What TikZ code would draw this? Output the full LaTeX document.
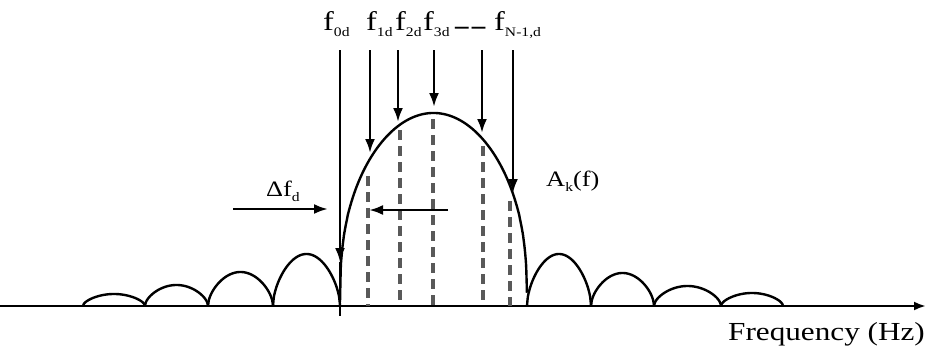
\documentclass[tikz,border=0pt]{standalone}
\usepackage{graphicx}
\usepackage{fontspec}
\setmainfont{Liberation Serif}
\usetikzlibrary{
    positioning,
    arrows.meta,
}
\newcommand{\wide}[1]{\scalebox{1.2}[1]{#1}}
\newcommand{\lowsub}[1]{\raisebox{-0.55ex}{\fontsize{13}{13}\selectfont #1}}
\tikzset{
    % Curve and axis styles
    spectrum/.style={line width=2.4pt, line join=round},
    axis line/.style={line width=2.4pt, -{Latex[length=12pt,width=9pt]}},
    % Arrow styles
    tone arrow/.style={line width=2.6pt, -{Latex[length=14pt,width=10pt]}},
    tone line/.style={line width=3.6pt, gray!70!black, dash pattern=on 10pt off 6pt},
    % Label styles
    flabel/.style={font=\fontsize{27}{30}\selectfont, inner sep=0pt},
    slabel/.style={font=\fontsize{22}{26}\selectfont, inner sep=0pt},
    axis label/.style={font=\fontsize{26}{30}\selectfont, inner sep=0pt},
}

\begin{document}
\begin{tikzpicture}[x=1pt, y=-1pt]
    \useasboundingbox (0,0) rectangle (927,351);

    % Frequency axis
    \coordinate (ax0) at (0,306);
    \coordinate (ax1) at (926,306);
    \draw[axis line] (ax0) -- (ax1);
    \node[axis label, anchor=base east] (freq) at (925,340) {\wide{Frequency (Hz)}};

    % Main lobe
    \draw[spectrum] plot[domain=-1:1, samples=241, smooth]
        ({433.5+93.5*\x}, {306-193*pow(max(abs(cos(90*\x)),0.00001),0.373)});

    % Side lobes
    \foreach \a/\b/\h in {83/145/12, 145/208/21, 208/273/34, 273/340/52,
                          527/591/52, 591/654/33, 654/721/20, 721/783/13}
        \draw[spectrum] plot[domain=-1:1, samples=81, smooth]
            ({(\a+\b)/2+(\b-\a)/2*\x}, {306-\h*pow(max(abs(cos(90*\x)),0.00001),0.55)});

    % Subcarrier labels
    \node[flabel, anchor=base west] (f0) at (323,30) {\wide{f\lowsub{0d}}};
    \node[flabel, anchor=base west] (f1) at (366,30) {\wide{f\lowsub{1d}}};
    \node[flabel, anchor=base west] (f2) at (395,30) {\wide{f\lowsub{2d}}};
    \node[flabel, anchor=base west] (f3) at (423,30) {\wide{f\lowsub{3d}}};
    \node[flabel, anchor=base west] (fdots) at (455,34) {\textbf{–}\hspace{3pt}\textbf{–}};
    \node[flabel, anchor=base west] (fN) at (494,30) {\wide{f\lowsub{N-1,d}}};

    % Subcarrier arrows
    \coordinate (s0) at (340,50);  \coordinate (t0) at (340,262);
    \coordinate (s1) at (370,50);  \coordinate (t1) at (370,153);
    \coordinate (s2) at (398,50);  \coordinate (t2) at (398,122);
    \coordinate (s3) at (434,50);  \coordinate (t3) at (434,107);
    \coordinate (s4) at (482,50);  \coordinate (t4) at (482,133);
    \coordinate (s5) at (513,50);  \coordinate (t5) at (513,193);
    \coordinate (b0) at (340,316);

    \draw[tone arrow] (s0) -- (t0);
    \draw[spectrum] (t0) -- (b0);
    \draw[tone arrow] (s1) -- (t1);
    \draw[tone arrow] (s2) -- (t2);
    \draw[tone arrow] (s3) -- (t3);
    \draw[tone arrow] (s4) -- (t4);
    \draw[tone arrow] (s5) -- (t5);

    % Dashed lines under the lobe
    \coordinate (d1) at (368,176);
    \coordinate (d2) at (400,130);
    \coordinate (d3) at (433,119);
    \coordinate (d4) at (483,146);
    \coordinate (d5) at (510,201);
    \draw[tone line] (d1) -- (d1 |- ax0);
    \draw[tone line] (d2) -- (d2 |- ax0);
    \draw[tone line] (d3) -- (d3 |- ax0);
    \draw[tone line] (d4) -- (d4 |- ax0);
    \draw[tone line] (d5) -- (d5 |- ax0);

    % Doppler shift
    \node[slabel, anchor=base west] (df) at (266,196) {\wide{Δf\lowsub{d}}};
    \coordinate (dl) at (233,209);
    \coordinate (dr) at (328,209);
    \draw[tone arrow] (dl) -- (dr);
    \coordinate (ls) at (448,210);
    \coordinate (le) at (369,210);
    \draw[tone arrow] (ls) -- (le);

    % Envelope label
    \node[slabel, anchor=base west] (ak) at (546,186) {\wide{A\lowsub{k}(f)}};
\end{tikzpicture}
\end{document}
